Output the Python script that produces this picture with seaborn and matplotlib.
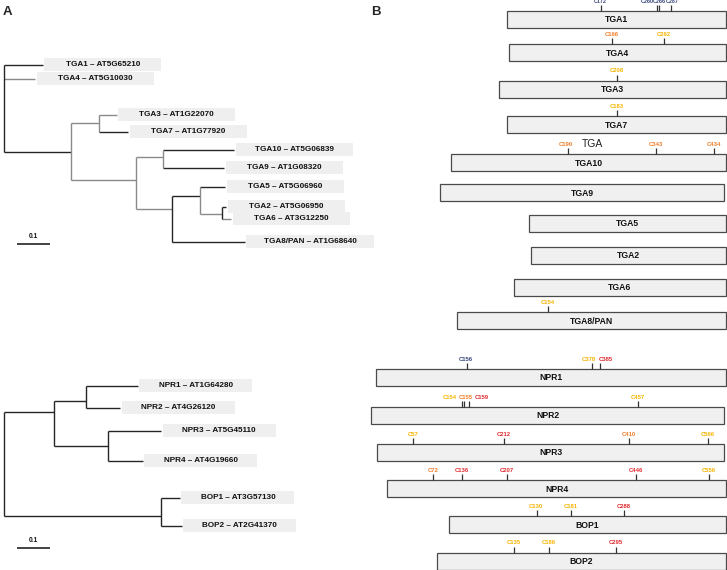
import matplotlib
matplotlib.use("Agg")
import matplotlib.pyplot as plt
from matplotlib.patches import Rectangle
import seaborn as sns

sns.set_theme(style="white")
plt.rcParams["font.family"] = ["Liberation Sans", "DejaVu Sans"]

# ---------------- Panel A: trees (x = distance, 0.1 scale bar) ----------------
TOP_NODES   = ["root", "TGA1", "TGA4", "n1", "n2", "TGA3", "TGA7", "n3", "n4", "TGA10", "TGA9",
               "n5", "n6", "TGA5", "n7", "TGA2", "TGA6", "TGA8/PAN"]
TOP_PARENTS = [None, "root", "root", "root", "n1", "n2", "n2", "n1", "n3", "n4", "n4",
               "n3", "n5", "n6", "n6", "n7", "n7", "n5"]
TOP_DIST    = [0.0, 0.118, 0.094, 0.203, 0.288, 0.342, 0.376, 0.400, 0.482, 0.697, 0.667,
               0.509, 0.594, 0.670, 0.661, 0.673, 0.688, 0.730]
TOP_ROW     = [None, 65, 79, 152, 123, 115, 132, 180, 157, 150, 168,
               209, 196, 187, 214, 207, 219, 242]
TOP_EDGE_SHADE = ["k", "k", "g", "k", "g", "g", "k", "g", "g", "k", "k",
                  "g", "k", "k", "g", "k", "g", "k"]
TOP_VERT_SHADE = {"root": "k", "n1": "g", "n2": "g", "n3": "g", "n4": "g",
                  "n5": "k", "n6": "g", "n7": "k"}
TOP_LABELS = {"TGA1": "TGA1 – AT5G65210", "TGA4": "TGA4 – AT5G10030",
              "TGA3": "TGA3 – AT1G22070", "TGA7": "TGA7 – AT1G77920",
              "TGA10": "TGA10 – AT5G06839", "TGA9": "TGA9 – AT1G08320",
              "TGA5": "TGA5 – AT5G06960", "TGA2": "TGA2 – AT5G06950",
              "TGA6": "TGA6 – AT3G12250", "TGA8/PAN": "TGA8/PAN – AT1G68640"}

BOT_NODES   = ["root2", "m1", "m2", "NPR1", "NPR2", "m3", "NPR3", "NPR4", "m4", "BOP1", "BOP2"]
BOT_PARENTS = [None, "root2", "m1", "m2", "m2", "m1", "m3", "m3", "root2", "m4", "m4"]
BOT_DIST    = [0.0, 0.152, 0.248, 0.406, 0.352, 0.315, 0.476, 0.421, 0.476, 0.533, 0.539]
BOT_ROW     = [None, 412, 401, 386, 408, 446, 431, 461, 516, 498, 526]
BOT_LABELS = {"NPR1": "NPR1 – AT1G64280", "NPR2": "NPR2 – AT4G26120",
              "NPR3": "NPR3 – AT5G45110", "NPR4": "NPR4 – AT4G19660",
              "BOP1": "BOP1 – AT3G57130", "BOP2": "BOP2 – AT2G41370"}

SCALEBAR_ROWS = [244, 548]

# ---------------- Panel B: protein maps ----------------
PROTEINS  = ["TGA1", "TGA4", "TGA3", "TGA7", "TGA10", "TGA9", "TGA5", "TGA2", "TGA6", "TGA8/PAN",
             "NPR1", "NPR2", "NPR3", "NPR4", "BOP1", "BOP2"]
BOX_START = [507, 509, 499, 507, 451, 440, 529, 531, 514, 457,
             376, 371, 377, 387, 449, 437]
BOX_END   = [726, 726, 726, 726, 726, 724, 726, 726, 726, 726,
             726, 724, 724, 726, 726, 726]
BOX_ROW   = [19.5, 52.5, 89, 124.5, 162.5, 192.5, 223.5, 255.5, 287.5, 320.5,
             377.5, 415.5, 452, 488.5, 524.5, 561]

CYS_PROT  = ["TGA1", "TGA1", "TGA1", "TGA1", "TGA4", "TGA4", "TGA3", "TGA7",
             "TGA10", "TGA10", "TGA10", "TGA8/PAN",
             "NPR1", "NPR1", "NPR1", "NPR2", "NPR2", "NPR2", "NPR2",
             "NPR3", "NPR3", "NPR3", "NPR3",
             "NPR4", "NPR4", "NPR4", "NPR4", "NPR4",
             "BOP1", "BOP1", "BOP1", "BOP2", "BOP2", "BOP2"]
CYS_LABEL = ["C172", "C260", "C266", "C287", "C166", "C262", "C208", "C183",
             "C190", "C343", "C434", "C154",
             "C156", "C378", "C385", "C154", "C155", "C159", "C457",
             "C57", "C212", "C410", "C566",
             "C72", "C136", "C207", "C446", "C556",
             "C130", "C181", "C288", "C135", "C186", "C295"]
CYS_POS   = [601, 656.5, 659, 671, 612, 664, 617, 617,
             568, 656, 714, 548,
             467, 592, 600, 462, 464, 469, 638,
             413, 504, 629, 708,
             433, 462, 507, 636, 709,
             537, 571, 624, 514, 549, 616]
CYS_TEXT  = [600, 647, 659.5, 672.5, 612, 664, 617, 617,
             566, 656, 714, 548,
             466, 589, 606, 450, 466, 482, 638,
             413, 504, 629, 708,
             433, 462, 507, 636, 709,
             536, 571, 624, 514, 549, 616]
CYS_CLASS = ["navy", "navy", "navy", "navy", "orange", "gold", "gold", "gold",
             "orange", "orange", "orange", "gold",
             "navy", "gold", "red", "gold", "orange", "red", "gold",
             "gold", "red", "orange", "gold",
             "orange", "red", "red", "red", "gold",
             "gold", "gold", "red", "gold", "gold", "red"]
CYS_COLORS = {"navy": "#33427a", "orange": "#f07c28", "gold": "#f6b400", "red": "#e32a2e"}

SHADES = {"k": "#262626", "g": "#8a8a8a"}

# ---------------- figure ----------------
W, H = 727, 570
fig = plt.figure(figsize=(W / 100, H / 100), dpi=100)
fig.patch.set_facecolor("white")

PX_PER_UNIT = 330.0
X0_PX = 4.0
axA = fig.add_axes([0, 0, 380 / W, 1])
axA.set_xlim(-X0_PX / PX_PER_UNIT, (380 - X0_PX) / PX_PER_UNIT)
axA.set_ylim(H, 0)
axA.axis("off")

line_w = 1.0


def draw_tree(ax, nodes, parents, dist, rows, labels, box_w_px, edge_shade=None,
              vert_shade=None, default_shade="k"):
    xs = dict(zip(nodes, dist))
    ys = dict(zip(nodes, rows))
    children = {}
    for n, p in zip(nodes, parents):
        if p is not None:
            children.setdefault(p, []).append(n)
    # horizontal edges
    for i, (n, p) in enumerate(zip(nodes, parents)):
        if p is None:
            continue
        sh = edge_shade[i] if edge_shade else default_shade
        sns.lineplot(x=[xs[p], xs[n]], y=[ys[n], ys[n]], ax=ax, color=SHADES[sh],
                     lw=line_w, solid_capstyle="butt", legend=False)
    # vertical connectors
    for p, ch in children.items():
        yy = [ys[c] for c in ch]
        sh = vert_shade.get(p, default_shade) if vert_shade else default_shade
        ax.plot([xs[p], xs[p]], [min(yy), max(yy)], color=SHADES[sh], lw=line_w,
                solid_capstyle="butt")
    # tip labels
    gap = 1.5 / PX_PER_UNIT
    for n in nodes:
        if n in labels:
            bw = box_w_px.get(n, box_w_px["default"]) / PX_PER_UNIT
            x0 = xs[n] + gap
            ax.add_patch(Rectangle((x0, ys[n] - 7.5), bw, 13.5, facecolor="#efefef",
                                   edgecolor="none", zorder=1))
            ax.text(x0 + bw / 2, ys[n] - 0.5, labels[n], ha="center", va="center",
                    fontsize=5.9, fontweight="bold", color="#111111", zorder=2)


draw_tree(axA, TOP_NODES, TOP_PARENTS, TOP_DIST, TOP_ROW, TOP_LABELS,
          {"default": 117, "TGA8/PAN": 128}, TOP_EDGE_SHADE, TOP_VERT_SHADE)
draw_tree(axA, BOT_NODES, BOT_PARENTS, BOT_DIST, BOT_ROW, BOT_LABELS,
          {"default": 113}, None, None, "k")

for r in SCALEBAR_ROWS:
    xs0 = (17 - X0_PX) / PX_PER_UNIT
    axA.plot([xs0, xs0 + 0.1], [r, r], color="#111111", lw=1.1, solid_capstyle="butt")
    axA.text(xs0 + 0.05, r - 7, "0.1", ha="center", va="center", fontsize=4.8,
             fontweight="bold", color="#111111")

# ---------------- Panel B ----------------
axB = fig.add_axes([360 / W, 0, (W - 360) / W, 1])
axB.set_xlim(360, W)
axB.set_ylim(H, 0)
axB.axis("off")

BOX_H = 17
box_top = {}
for name, s, e, r in zip(PROTEINS, BOX_START, BOX_END, BOX_ROW):
    axB.add_patch(Rectangle((s, r - BOX_H / 2), e - s, BOX_H, facecolor="#f0f0f0",
                            edgecolor="#4a4a4a", lw=0.9, zorder=2))
    axB.text((s + e) / 2, r + 0.5, name, ha="center", va="center", fontsize=6.2,
             fontweight="bold", color="#111111", zorder=3)
    box_top[name] = r - BOX_H / 2

for p, lab, xp, xt, cl in zip(CYS_PROT, CYS_LABEL, CYS_POS, CYS_TEXT, CYS_CLASS):
    top = box_top[p]
    axB.plot([xp, xp], [top, top - 6], color="#333333", lw=0.9, zorder=3,
             solid_capstyle="butt")
    fs = 3.9 if p == "TGA1" else 4.2
    axB.text(xt, top - 9.5, lab, ha="center", va="center", fontsize=fs,
             fontweight="bold", color=CYS_COLORS[cl], zorder=3)

axB.text(592, 144, "TGA", ha="center", va="center", fontsize=7.5, color="#222222")

# panel letters
fig.text(7 / W, 1 - 12 / H, "A", ha="center", va="center", fontsize=9.5, fontweight="bold")
fig.text(376 / W, 1 - 12 / H, "B", ha="center", va="center", fontsize=9.5, fontweight="bold")

fig.savefig("out.png", dpi=100)
